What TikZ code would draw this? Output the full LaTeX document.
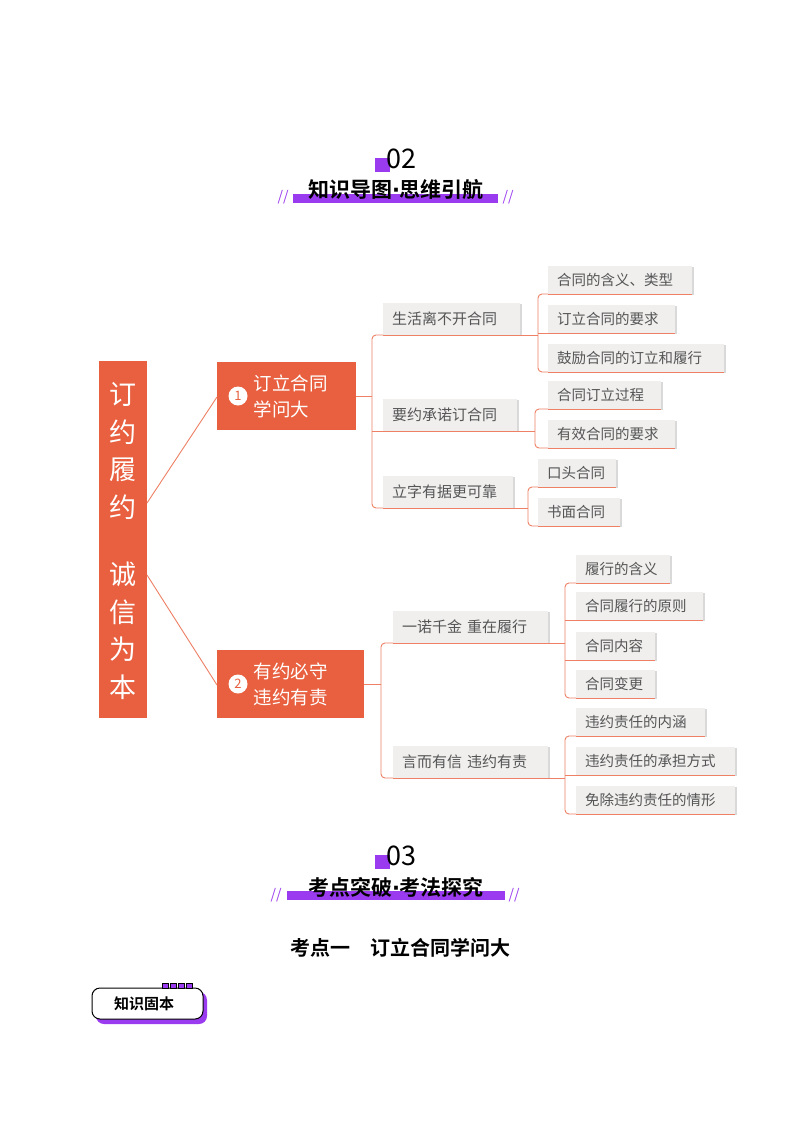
\documentclass[tikz,border=0pt]{standalone}
\usepackage{fontspec}
\setmainfont{Noto Sans CJK SC}
\newfontfamily\cjkb{Noto Sans CJK SC Bold}
\newfontfamily\dotf{DejaVu Sans Bold}
\newcommand{\mdot}{{\dotf ·}}
\usetikzlibrary{shadows}
\definecolor{org}{HTML}{E8603F}
\definecolor{pur}{HTML}{9B3BEF}
\definecolor{lg}{HTML}{F0EFEE}
\definecolor{tx}{HTML}{555555}
\begin{document}
\begin{tikzpicture}[x=1pt,y=-1pt,
  leaf/.style={fill=lg, anchor=south west, inner xsep=9pt, minimum height=28pt, align=left, font=\fontsize{14.5}{16}\selectfont, text=tx, drop shadow={shadow xshift=1.5pt, shadow yshift=-1.5pt, fill=black!15, opacity=1}},
  mid/.style={leaf, minimum height=32pt, font=\fontsize{15}{17}\selectfont},
  conn/.style={draw=org!80, line width=0.9pt, rounded corners=4pt},
  num/.style={circle, fill=white, text=org, inner sep=0pt, minimum size=19pt, font=\fontsize{13}{13}\selectfont},
  hdr/.style={font=\cjkb\fontsize{21}{23}\selectfont, text=black}]
\useasboundingbox (0,0) rectangle (800,1132);
\fill[white] (0,0) rectangle (800,1132);
% header 02
\fill[pur] (375,158) rectangle (390,172);
\node[font=\fontsize{27}{28}\selectfont] (n02) at (401,159) {02};
\fill[pur] (293,194) rectangle (498,203);
\node[hdr] (h1) at (396,190) {知识导图\mdot 思维引航};
\node[text=pur, font=\fontsize{14}{14}\selectfont\itshape] (s1) at (283,197) {//};
\node[text=pur, font=\fontsize{14}{14}\selectfont\itshape] (s2) at (508,197) {//};
% root
\fill[org] (99,361) rectangle (147,718);
\node[text=white, font=\fontsize{27}{37.5}\selectfont, align=center] (root) at (123,541) {订\\约\\履\\约\\[30pt]诚\\信\\为\\本};
% box1 / box2
\fill[org] (217,362) rectangle (356,430);
\node[num] (k1) at (238,396) {1};
\node[text=white, font=\fontsize{18.5}{26}\selectfont, align=left, anchor=west] (b1) at (250,396) {订立合同\\学问大};
\fill[org] (217,650) rectangle (364,718);
\node[num] (k2) at (238,684) {2};
\node[text=white, font=\fontsize{18.5}{26}\selectfont, align=left, anchor=west] (b2) at (250,684) {有约必守\\违约有责};
\coordinate (r1) at (147,503);
\coordinate (r2) at (147,575);
\coordinate (b1w) at (217,397);
\coordinate (b1e) at (356,396);
\coordinate (b2w) at (217,685);
\coordinate (b2e) at (364,684);
\draw[conn] (r1) -- (b1w);
\draw[conn] (r2) -- (b2w);
% level 2
\node[mid, text width=119pt] (m1) at (383,335) {生活离不开合同};
\node[mid, text width=116pt] (m2) at (383,431) {要约承诺订合同};
\node[mid, text width=112pt] (m3) at (383,508) {立字有据更可靠};
\node[mid, text width=137pt] (m4) at (393,643) {一诺千金 重在履行};
\node[mid, text width=137pt] (m5) at (393,778) {言而有信 违约有责};
\foreach \m in {m1,m2,m3,m4,m5} \draw[org!80, line width=0.9pt] (\m.south west) -- (\m.south east);
\draw[conn] (b1e) -- (372,396);
\draw[conn] (m1.south west) -| (372,420) |- (m3.south west);
\draw[conn] (372,431) -- (m2.south west);
\draw[conn] (b2e) -- (381,684);
\draw[conn] (m4.south west) -| (381,700) |- (m5.south west);
% leaves
\node[leaf, text width=126pt] (l1) at (548,294) {合同的含义、类型};
\node[leaf, text width=109pt] (l2) at (548,333) {订立合同的要求};
\node[leaf, text width=158pt] (l3) at (548,372) {鼓励合同的订立和履行};
\node[leaf, text width=95pt] (l4) at (548,409) {合同订立过程};
\node[leaf, text width=109pt] (l5) at (548,448) {有效合同的要求};
\node[leaf, text width=60pt] (l6) at (538,487) {口头合同};
\node[leaf, text width=64pt] (l7) at (538,526) {书面合同};
\node[leaf, text width=76pt] (l8) at (576,583) {履行的含义};
\node[leaf, text width=109pt] (l9) at (576,620) {合同履行的原则};
\node[leaf, text width=61pt] (l10) at (576,660) {合同内容};
\node[leaf, text width=61pt] (l11) at (576,698) {合同变更};
\node[leaf, text width=111pt] (l12) at (576,736) {违约责任的内涵};
\node[leaf, text width=141pt] (l13) at (576,775) {违约责任的承担方式};
\node[leaf, text width=141pt] (l14) at (576,814) {免除违约责任的情形};
\foreach \l in {l1,l2,l3,l4,l5,l6,l7,l8,l9,l10,l11,l12,l13,l14} \draw[org!80, line width=0.9pt] (\l.south west) -- (\l.south east);
\draw[conn] (m1.south east) -- (538,335);
\draw[conn] (l1.south west) -| (538,335) |- (l3.south west);
\draw[conn] (538,333) -- (l2.south west);
\draw[conn] (m2.south east) -- (535,431);
\draw[conn] (l4.south west) -| (535,431) |- (l5.south west);
\draw[conn] (m3.south east) -- (528,508);
\draw[conn] (l6.south west) -| (528,508) |- (l7.south west);
\draw[conn] (m4.south east) -- (565,643);
\draw[conn] (l8.south west) -| (565,643) |- (l11.south west);
\draw[conn] (565,620) -- (l9.south west);
\draw[conn] (565,660) -- (l10.south west);
\draw[conn] (m5.south east) -- (565,778);
\draw[conn] (l12.south west) -| (565,778) |- (l14.south west);
\draw[conn] (565,775) -- (l13.south west);
% header 03
\fill[pur] (375,855) rectangle (390,869);
\node[font=\fontsize{27}{28}\selectfont] (n03) at (401,856) {03};
\fill[pur] (287,891) rectangle (505,900);
\node[hdr] (h2) at (396,887) {考点突破\mdot 考法探究};
\node[text=pur, font=\fontsize{14}{14}\selectfont\itshape] (s3) at (276,895) {//};
\node[text=pur, font=\fontsize{14}{14}\selectfont\itshape] (s4) at (514,895) {//};
\node[font=\cjkb\fontsize{20}{22}\selectfont] (kd) at (400,948) {考点一\quad 订立合同学问大};
% badge
\fill[pur, rounded corners=8pt] (96,992) rectangle (207,1024);
\draw[black, line width=1pt, fill=white, rounded corners=8pt] (92,988) rectangle (203,1019);
\foreach \i in {0,1,2,3} \draw[black, fill=pur, line width=0.6pt] (162+\i*8,983) rectangle (168+\i*8,988);
\node[font=\cjkb\fontsize{15}{16}\selectfont] (bd) at (144,1004) {知识固本};
\end{tikzpicture}
\end{document}
